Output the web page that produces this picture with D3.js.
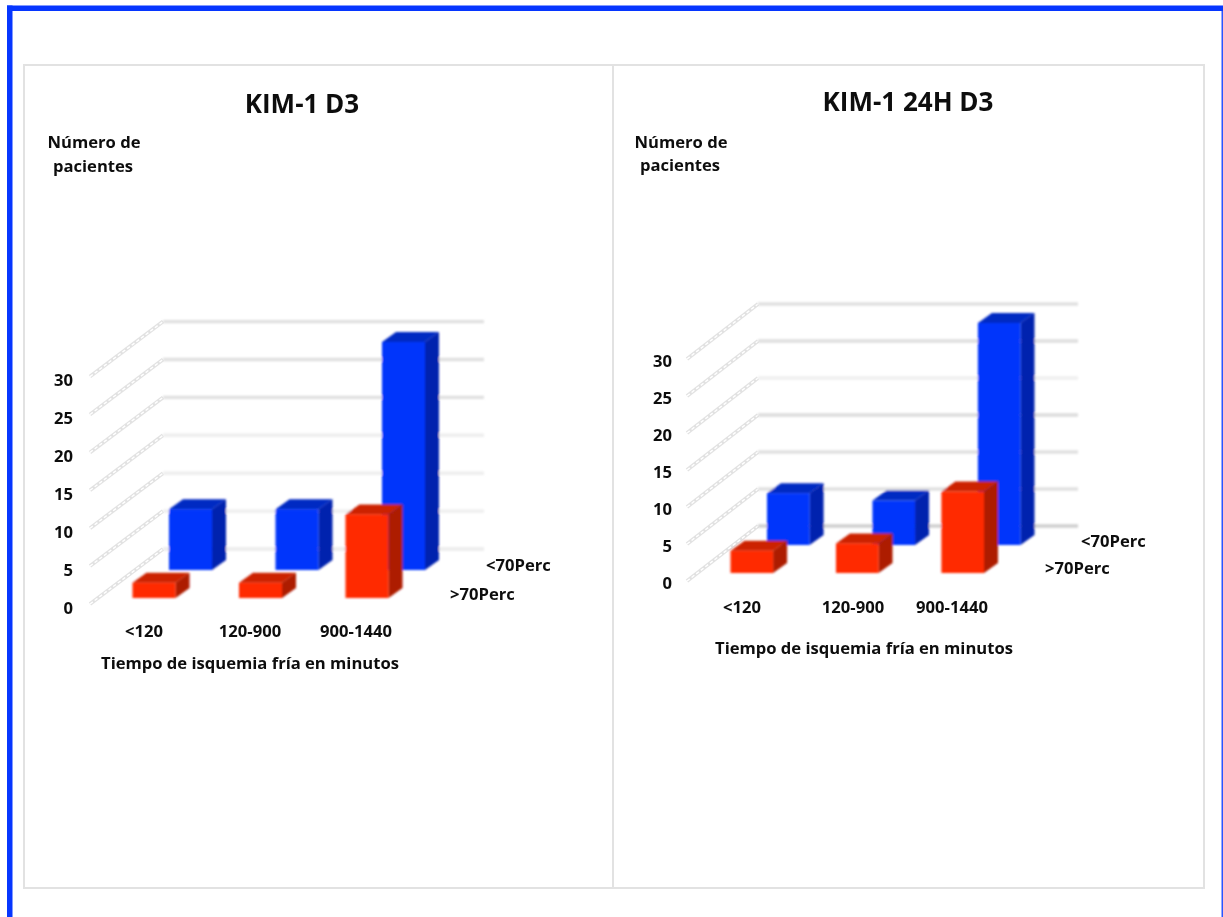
<!DOCTYPE html>
<html><head><meta charset="utf-8">
<script src="https://cdn.jsdelivr.net/npm/d3@7"></script>
<style>html,body{margin:0;padding:0;background:#fff}svg{display:block}
text{font-family:"Open Sans",Lato,sans-serif;font-weight:700;fill:#0d0d0d}</style>
</head><body><svg id="c" width="1223" height="917"></svg>
<script>
const categories = ["<120", "120-900", "900-1440"];
const seriesNames = ["<70Perc", ">70Perc"];
const yTicks = [0, 5, 10, 15, 20, 25, 30];
const leftTitle = "KIM-1 D3";
const rightTitle = "KIM-1 24H D3";
const yLabelLines = ["Número de", "pacientes"];
const xLabel = "Tiempo de isquemia fría en minutos";
const leftBelow70 = [8, 8, 30];
const leftAbove70 = [2, 2, 11];
const rightBelow70 = [7, 6, 30];
const rightAbove70 = [3, 4, 11];

const layouts = [
 {title:leftTitle, titleX:302, titleY:113, below:leftBelow70, above:leftAbove70,
  bandRange:[132.5,388.5], yRange:[598,370], axisX:73, axisDy:10,
  gridFront:[90,604], gridBack:[163,549], gridEnd:484, gridScale:7.58,
  gridCols:["#ebebeb","#eeeeee","#eeeeee","#eeeeee","#e0e0e0","#e0e0e0","#e0e0e0"],
  yLab:[[94,148],[93,172]], catX:[144,250,356], catY:637, xTitle:[250,669],
  legend:[[486,571],[450,600]]},
 {title:rightTitle, titleX:908, titleY:111, below:rightBelow70, above:rightAbove70,
  bandRange:[730.5,984], yRange:[573,351], axisX:672, axisDy:10,
  gridFront:[687,581], gridBack:[758,526], gridEnd:1078, gridScale:7.4,
  gridCols:["#cfcfcf","#e0e0e0","#e0e0e0","#dcdcdc","#efefef","#dedede","#e0e0e0"],
  yLab:[[681,148],[680,171]], catX:[742,853,952], catY:613, xTitle:[864,654],
  legend:[[1081,547],[1045,574]]}
];
const colours = {
 blue:{front:"#0434fb", top:"#0429c2", side:"#0320ae"},
 red:{front:"#ff2b00", top:"#cc2200", side:"#ad1c00"}
};
const depth = {dx:14, dy:10};
const rowShift = {dx:36.5, dy:-28};
const labelSize = "16.6px";

const svg = d3.select("#c");
const defs = svg.append("defs");
defs.append("filter").attr("id","soft").attr("x","-2%").attr("y","-2%").attr("width","104%").attr("height","104%")
  .append("feGaussianBlur").attr("stdDeviation",0.8);
defs.append("filter").attr("id","softText").attr("x","-5%").attr("y","-30%").attr("width","110%").attr("height","160%")
  .append("feGaussianBlur").attr("stdDeviation",0.35);

// page frame
const blue="#0636ff";
svg.append("rect").attr("x",7).attr("y",5.5).attr("width",1216).attr("height",5.5).attr("fill",blue);
svg.append("rect").attr("x",7).attr("y",5.5).attr("width",5.5).attr("height",912).attr("fill",blue);
svg.append("rect").attr("x",1221.5).attr("y",11).attr("width",1.5).attr("height",906).attr("fill","#2a55ff");
// panel box
svg.append("rect").attr("x",24).attr("y",65).attr("width",1180).attr("height",823)
  .attr("fill","none").attr("stroke","#e2e2e2").attr("stroke-width",2);
svg.append("line").attr("x1",613).attr("x2",613).attr("y1",65).attr("y2",888)
  .attr("stroke","#e2e2e2").attr("stroke-width",2);

function bars(g, values, x, y, fill, shift){
  const y0 = y(0)+shift.dy;
  const w = x.bandwidth();
  const sel = g.selectAll(null).data(values.map((v,i)=>({v,c:categories[i]}))).join("g");
  const X = d=>x(d.c)+shift.dx, Y = d=>y(d.v)+shift.dy;
  sel.append("polygon").attr("fill",fill.side).attr("points",d=>[
    [X(d)+w,Y(d)],[X(d)+w+depth.dx,Y(d)-depth.dy],[X(d)+w+depth.dx,y0-depth.dy],[X(d)+w,y0]].join(" "));
  sel.append("polygon").attr("fill",fill.top).attr("points",d=>[
    [X(d),Y(d)],[X(d)+depth.dx,Y(d)-depth.dy],[X(d)+w+depth.dx,Y(d)-depth.dy],[X(d)+w,Y(d)]].join(" "));
  sel.append("rect").attr("fill",fill.front).attr("x",X).attr("y",Y).attr("width",w).attr("height",d=>y0-Y(d));
}

layouts.forEach(p=>{
  const x = d3.scaleBand().domain(categories).range(p.bandRange).paddingInner(0.596).paddingOuter(0).align(0);
  const y = d3.scaleLinear().domain([0,30]).range(p.yRange);
  const gy = d3.scaleLinear().domain([0,30]).range([0,-30*p.gridScale]);

  const diag = svg.append("g").selectAll(null).data(yTicks).join("g");
  diag.append("line").attr("x1",p.gridFront[0]).attr("x2",p.gridBack[0])
    .attr("y1",d=>p.gridFront[1]+gy(d)).attr("y2",d=>p.gridBack[1]+gy(d))
    .attr("stroke","#e2e2e2").attr("stroke-width",3.8);
  diag.append("line").attr("x1",p.gridFront[0]).attr("x2",p.gridBack[0])
    .attr("y1",d=>p.gridFront[1]+gy(d)).attr("y2",d=>p.gridBack[1]+gy(d))
    .attr("stroke","#fff").attr("stroke-width",1.4).attr("stroke-dasharray","3.5 2.3");

  const plot = svg.append("g").attr("filter","url(#soft)");
  plot.selectAll(null).data(yTicks).join("line").attr("x1",p.gridBack[0]).attr("x2",p.gridEnd)
    .attr("y1",d=>p.gridBack[1]+gy(d)).attr("y2",d=>p.gridBack[1]+gy(d))
    .attr("stroke",(d,i)=>p.gridCols[i]).attr("stroke-width",3.4);

  bars(plot.append("g"), p.below, x, y, colours.blue, rowShift);
  bars(plot.append("g"), p.above, x, y, colours.red, {dx:0,dy:0});

  const t = svg.append("g").attr("filter","url(#softText)");
  t.append("text").attr("x",p.titleX).attr("y",p.titleY).attr("text-anchor","middle")
    .style("font-size","26px").text(p.title);
  t.selectAll(null).data(yLabelLines).join("text")
    .attr("x",(d,i)=>p.yLab[i][0]).attr("y",(d,i)=>p.yLab[i][1]).attr("text-anchor","middle")
    .style("font-size",labelSize).text(d=>d);

  const axis = d3.axisLeft(y).tickValues(yTicks).tickSize(0).tickPadding(0).tickFormat(d3.format("d"));
  const ax = t.append("g").attr("transform",`translate(${p.axisX},${p.axisDy})`).call(axis);
  ax.select(".domain").remove();
  ax.selectAll("text").attr("text-anchor","end").style("font-size",labelSize);
  ax.attr("font-family",null).attr("font-size",null);

  t.selectAll(null).data(categories).join("text")
    .attr("x",(d,i)=>p.catX[i]).attr("y",p.catY).attr("text-anchor","middle")
    .style("font-size",labelSize).text(d=>d);
  t.append("text").attr("x",p.xTitle[0]).attr("y",p.xTitle[1]).attr("text-anchor","middle")
    .style("font-size",labelSize).text(xLabel);
  t.selectAll(null).data(seriesNames).join("text")
    .attr("x",(d,i)=>p.legend[i][0]).attr("y",(d,i)=>p.legend[i][1])
    .style("font-size",labelSize).text(d=>d);
});
</script></body></html>
